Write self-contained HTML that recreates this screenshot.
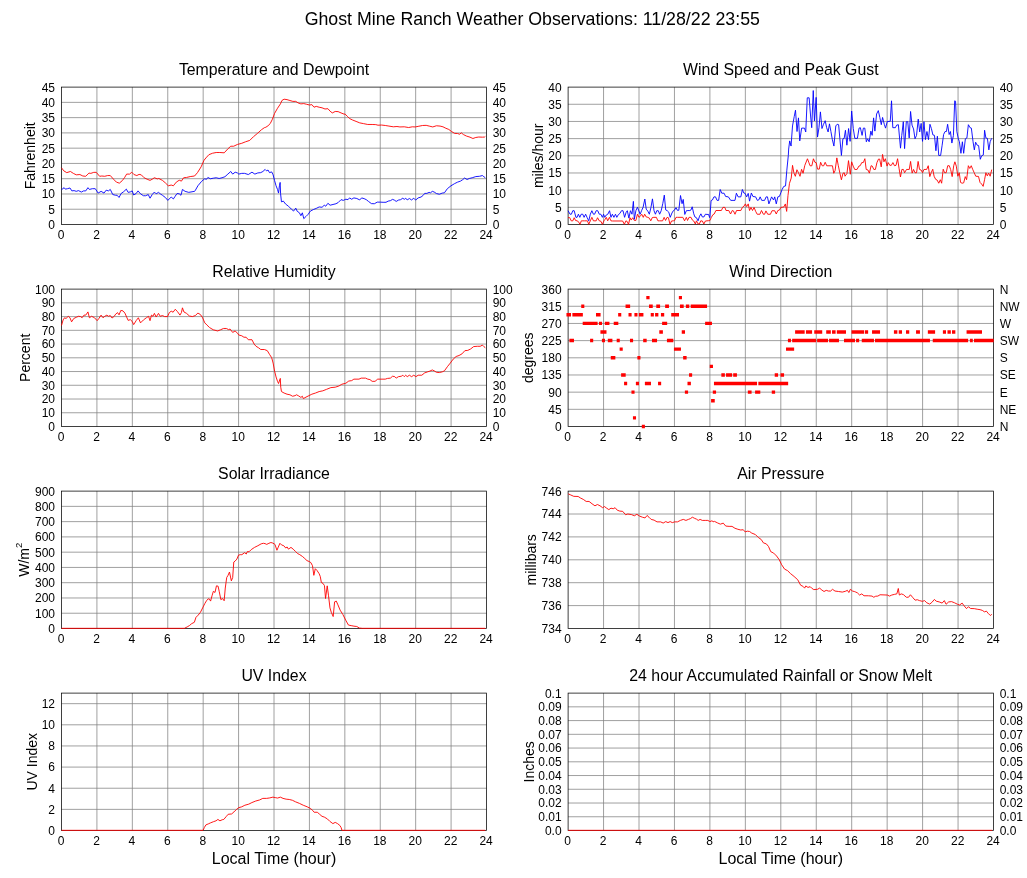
<!DOCTYPE html>
<html lang="en"><head><meta charset="utf-8"><title>Ghost Mine Ranch Weather Observations</title>
<style>html,body{margin:0;padding:0;background:#fff}svg{display:block}</style></head>
<body>
<svg width="1027" height="878" viewBox="0 0 1027 878" font-family='"Liberation Sans", Arial, Helvetica, sans-serif' fill="#000">
<defs><filter id="gs" filterUnits="userSpaceOnUse" x="0" y="0" width="1027" height="878" color-interpolation-filters="sRGB"><feColorMatrix type="saturate" values="0"/></filter></defs>
<rect width="1027" height="878" fill="#fff"/>
<g>
<path d="M96.92 87.1V224.5M132.33 87.1V224.5M167.75 87.1V224.5M203.17 87.1V224.5M238.58 87.1V224.5M274 87.1V224.5M309.42 87.1V224.5M344.83 87.1V224.5M380.25 87.1V224.5M415.67 87.1V224.5M451.08 87.1V224.5M61.5 209.23H486.5M61.5 193.97H486.5M61.5 178.7H486.5M61.5 163.43H486.5M61.5 148.17H486.5M61.5 132.9H486.5M61.5 117.63H486.5M61.5 102.37H486.5" stroke="#808080" stroke-width="0.75" fill="none"/>
<rect x="61.5" y="87.1" width="425" height="137.4" fill="none" stroke="#000" stroke-width="0.75"/>
<path d="M61.5 189.73L64.13 187.68L65.3 189.14L67.49 188.7L69.98 187.97L71.88 190.9L74.07 190.6L76.26 191.33L78.45 190.6L81.37 192.06L83.56 190.9L85.75 190.9L87.94 187.68L89.4 189.44L92.32 188.7L95.24 188.7L98.17 193.09L101.09 191.33L104.01 193.09L106.2 190.17L108.39 190.9L110.29 189.44L112.77 194.55L115.69 195.28L117.15 195.28L119.05 197.47L121.1 193.52L123.73 191.63L126.35 189.14L128.11 192.36L130.3 191.92L132.2 190.9L133.66 194.99L136.14 193.52L138.04 190.9L140.52 193.82L143.44 195.72L145.63 195.72L148.26 194.55L150.02 198.2L152.21 194.55L154.4 192.06L156.15 193.82L158.49 192.36L160.24 193.82L162.43 195.28L165.35 197.47L167.83 200.39L171.19 197.03L173.38 198.93L174.85 196.74L177.04 193.52L179.23 193.82L180.98 195.28L182.44 189.44L185.07 191.33L188.72 192.36L194.56 191.33L195 190.9L197.92 185.78L201.57 181.4L204.49 178.92L206.68 179.21L207.85 177.46L210.34 178.77L213.26 178.19L216.18 177.75L219.1 178.48L222.02 177.75L224.94 176.73L227.86 174.1L230.78 171.47L232.68 174.1L235.17 172.2L237.36 172.93L238.82 174.1L241.74 173.37L244.66 173.37L248.31 174.54L251.96 172.2L254.88 174.1L257.8 172.93L260.73 172.64L262.92 171.47L265.11 169.43L266.57 170.89L268.03 170.01L269.49 172.64L271.68 171.91L273.14 174.83L274.6 180.67L276.06 185.78L277.52 189.44L278.54 193.09L279.42 185.78L280.15 182.42L280.59 193.82L281.47 201.85L283.36 201.12L285.56 204.04L288.48 206.23L291.4 209.15L293.59 211.05L295.78 208.13L297.24 211.34L299.43 212.8L300.89 215.73L302.35 212.8L303.81 218.65L306 216.46L308.19 214.26L310.38 211.05L313.31 209.59L316.23 208.42L319.15 206.96L322.07 207.25L324.26 205.21L325.72 206.23L327.91 203.31L330.1 205.21L333.02 204.48L335.94 203.75L338.14 202.58L341.06 199.66L343.25 200.39L345.84 199.22L348.03 199.66L349.49 197.91L351.68 199.22L353.88 197.91L356.8 198.49L359.72 199.95L361.62 197.91L364.1 198.64L366.29 199.66L368.48 201.41L371.4 203.6L374.32 203.75L377.24 202.14L380.17 202.14L383.09 202.29L386.01 202.29L388.2 201.12L390.39 200.68L392.58 199.37L394.33 200.1L396.23 201.41L398.42 200.1L400.61 199.66L402.8 198.2L404.26 199.37L405.73 198.2L407.19 199.95L409.38 198.49L411.57 199.95L413.76 198.2L415.66 200.1L418.14 197.91L421.06 197.03L423.25 195.28L424.71 193.38L426.9 193.38L429.09 192.36L430.56 192.79L432.31 191.33L434.21 192.06L436.4 193.52L439.32 194.26L442.24 193.09L444.43 192.79L447.35 188.7L451 185.78L454.65 183.59L457.58 182.13L460.5 181.11L462.69 179.65L464.59 178.04L467.07 179.5L469.26 178.48L472.18 177.75L475.83 176.58L479.48 176.29L482.41 175.56L483.87 176.73L485.33 177.75" stroke="#0000ff" stroke-width="0.9" fill="none" stroke-linejoin="round"/>
<path d="M61.5 167.82L63.84 170.89L66.76 172.64L70.41 171.47L73.34 173.37L76.26 174.83L79.91 174.54L82.83 176L85.75 176.29L88.96 173.08L90.86 173.37L93.78 172.35L96.27 172.35L99.63 176.29L101.82 176L104.74 176.29L107.66 175.56L110.29 175.56L113.5 179.21L116.42 182.13L119.34 183.15L122.26 180.67L124.46 177.75L126.65 174.1L129.57 174.1L131.76 172.2L133.95 174.54L136.87 175.56L139.06 174.39L141.25 174.83L144.17 177.75L147.09 179.21L150.02 180.38L152.21 179.21L154.4 177.75L157.32 178.92L158.78 178.48L162.43 180.38L165.35 182.86L168.27 185.78L171.19 185.05L173.38 185.78L176.31 182.13L179.23 180.23L181.42 181.11L183.61 177.75L186.53 177.46L190.18 176.58L194.56 176L197.48 172.64L201.14 166.8L204.06 160.22L205.95 157.92L208.88 154.7L212.53 153.24L216.18 152.51L219.83 152.51L224.21 152.8L227.86 148.86L230.78 146.23L233.7 146.23L237.36 144.48L241.74 143.31L245.39 141.85L249.77 140.39L253.42 136.74L257.8 133.09L261.46 129.73L264.38 127.68L265.84 127.24L268.03 125.78L270.22 123.59L272.41 119.21L274.6 113.37L277.52 108.26L280.44 103.88L281.9 100.52L284.09 99.2L287.02 99.64L289.94 100.52L292.86 101.39L295.78 101.39L297.97 102.85L300.89 103.88L303.81 103.58L306.73 104.31L309.65 105.04L311.85 104.61L314.04 107.23L316.23 106.36L319.15 107.23L322.07 107.82L324.99 108.99L327.91 108.7L330.1 111.18L332.29 112.93L335.21 111.47L338.14 111.62L341.06 112.93L343.98 114.1L345.11 114.1L347.3 116.29L349.49 118.48L352.41 119.94L356.07 121.4L359.72 122.86L363.37 123.59L367.75 124.47L372.13 124.47L375.78 124.62L377.97 125.2L381.63 125.05L385.28 125.49L388.93 126.08L393.31 126.81L396.96 126.51L399.88 126.95L404.26 126.81L408.65 127.54L412.3 126.81L415.22 126.95L418.87 126.22L422.52 125.49L426.17 125.35L429.82 126.22L432.75 126.95L436.4 125.78L440.05 126.08L442.97 126.81L445.89 128.27L448.81 129.44L451.73 131.63L454.65 133.38L457.58 133.52L459.77 134.26L461.23 132.79L463.42 134.55L466.34 136.01L469.99 137.18L472.91 138.49L475.83 137.47L478.75 137.03L482.41 137.18L484.6 137.03L485.33 136.45" stroke="#ff0000" stroke-width="0.9" fill="none" stroke-linejoin="round"/>
</g>
<g>
<path d="M603.55 87.1V224.5M639 87.1V224.5M674.45 87.1V224.5M709.9 87.1V224.5M745.35 87.1V224.5M780.8 87.1V224.5M816.25 87.1V224.5M851.7 87.1V224.5M887.15 87.1V224.5M922.6 87.1V224.5M958.05 87.1V224.5M568.1 207.32H993.5M568.1 190.15H993.5M568.1 172.97H993.5M568.1 155.8H993.5M568.1 138.62H993.5M568.1 121.45H993.5M568.1 104.28H993.5" stroke="#808080" stroke-width="0.75" fill="none"/>
<rect x="568.1" y="87.1" width="425.4" height="137.4" fill="none" stroke="#000" stroke-width="0.75"/>
<path d="M568.12 217.56L569.67 217.56L571.23 220.83L572.79 220.83L574.19 217.72L575.52 220.44L577.07 220.83L578.4 221.61L579.96 224.34L581.36 220.83L582.92 220.83L584.47 220.83L586.03 220.83L587.43 220.83L588.76 224.34L590.32 220.83L591.87 217.33L593.43 220.83L594.99 220.83L596.16 220.83L597.56 217.72L599.27 220.83L600.83 221.22L602.39 224.34L603.95 220.83L605.12 219.27L606.29 217.33L607.69 220.83L609.4 217.33L610.96 220.83L612.52 220.99L622.64 220.99L624.36 224.34L625.92 220.83L627.32 221.61L628.49 224.5L630.04 217.72L631.21 220.05L632.77 217.72L634.33 220.44L635.89 220.44L637.44 214.21L639 217.33L640 216.55L641.71 214.21L643.27 217.33L644.67 214.21L646.23 216.94L647.79 217.33L649.35 218.11L650.75 220.83L652.31 217.56L653.87 217.33L656.36 217.33L657.92 220.83L659.47 220.83L662.59 220.83L664.15 217.33L665.55 220.44L667.11 217.33L668.43 217.72L669.99 224.34L671.55 220.99L673.34 220.83L674.66 220.44L675.99 217.33L677.39 217.33L682.84 217.33L684.56 220.83L686.35 217.33L687.52 220.44L689.07 217.33L691.02 217.33L692.35 220.05L693.75 220.99L695.31 223.95L696.48 220.83L698.03 223.95L699.36 223.95L700.76 220.83L702.32 220.99L703.88 223.95L705.43 220.99L706.99 220.83L708.55 220.68L709.83 220.63L711.23 217.67L712.79 214.79L714.19 214.01L715.91 210.51L721.36 210.51L722.92 207.39L724.86 207.39L726.03 210.51L728.76 210.51L730.55 214.01L732.26 210.51L733.43 210.9L734.99 214.25L736.55 210.51L740.83 210.51L742.39 207.39L743.95 206.22L745.35 203.89L746.67 206.61L748.23 203.89L749.56 210.51L750.96 207.39L752.52 210.51L754.07 207.39L755.63 211.29L757.19 214.25L759.92 214.25L761.48 210.51L763.42 214.25L764.59 214.25L765.92 210.9L767.71 214.25L770.43 214.25L771.99 210.74L774.72 210.74L776.28 214.01L777.83 210.51L779.39 210.12L780.95 207.39L782.12 207.23L783.77 207.02L785.35 203.95L786.67 211.4L787.98 195.61L789.47 183.33L791.23 178.07L792.54 165.35L793.86 172.81L795.35 176.32L796.93 169.74L798.51 172.81L800 176.32L801.58 169.3L803.07 173.25L804.82 165.35L807.46 158.77L808.77 162.28L810.09 165.79L811.84 165.79L813.42 158.77L814.91 162.28L816.23 162.72L817.54 169.12L819.3 169.12L820.61 162.28L822.19 165.79L823.68 165.79L825.18 162.28L826.75 165.79L832.46 165.79L833.77 173.25L835.09 170.61L836.84 157.89L838.33 165.79L839.91 173.25L841.4 179.82L842.98 173.25L844.3 172.81L845 176.22L846.95 173.5L848.51 160.64L850.3 174.27L851.62 161.81L853.18 166.1L854.74 169.44L857.07 169.44L858.87 166.1L860.19 165.71L861.75 162.59L863.31 162.59L864.86 158.7L866.19 169.44L867.98 169.99L869.38 173.11L871.1 165.71L872.26 166.1L873.82 169.44L875.38 169.44L876.94 162.59L878.5 159.08L879.66 159.08L881.22 166.87L882.55 154.41L883.95 161.81L885.35 158.7L887.06 166.1L888.23 162.59L889.79 165.32L891.35 165.32L892.91 162.59L894.46 165.71L896.02 165.32L897.58 158.7L899.14 168.82L900.46 177L901.86 169.44L903.42 169.44L904.59 172.72L906.54 169.44L909.26 169.44L910.59 161.42L912.15 173.11L913.55 169.44L915 172.72L916.56 172.72L918.12 161.42L919.52 169.44L921.08 169.99L922.56 172.72L923.96 169.44L926.68 169.44L928.24 165.71L929.8 176.61L931.2 172.72L932.76 169.21L934.08 176.22L935.64 179.34L937.2 180.12L938.76 183.23L940.32 179.73L941.64 183.23L943.2 169.21L944.6 172.72L946.16 172.72L947.72 165.71L949.27 165.71L950.68 169.6L952.16 176.61L953.71 165.71L954.88 161.81L956.29 166.1L957.84 176.22L959.25 172.72L960.57 182.45L962.13 183.23L963.69 182.84L965.24 176.61L966.57 179.73L968.36 165.71L969.76 168.43L971.24 165.71L972.64 169.21L974.2 172.72L975.76 176.22L978.49 176.46L980.04 182.45L981.6 184.01L983.16 186.35L984.56 179.73L985.89 172.72L987.29 175.83L988.61 173.11L990.17 176.22L991.73 169.6" stroke="#ff0000" stroke-width="0.9" fill="none" stroke-linejoin="round"/>
<path d="M568.12 210.71L570.06 214.21L571.39 214.21L572.79 210.71L574.19 210.71L575.91 217.33L577.07 217.33L578.4 214.21L579.8 217.33L581.2 214.21L582.76 214.21L584.08 217.33L585.64 214.21L587.2 217.72L588.76 220.83L590.32 214.21L591.87 210.71L593.43 214.21L594.6 214.21L596.16 210.71L597.72 210.71L599.27 214.21L600.83 214.21L602.39 217.33L603.56 214.21L604.73 217.33L606.29 214.99L607.84 214.21L609.56 210.71L610.96 217.33L612.36 214.21L613.92 217.33L615.48 214.21L616.8 217.33L618.36 214.6L619.92 213.43L621.48 210.71L623.03 210.71L624.59 217.33L626.15 212.26L627.32 210.71L628.88 218.11L630.43 210.71L631.99 214.21L633.39 201.36L634.33 219.27L635.89 210.71L637.44 207.2L640.17 214.21L641.56 210.71L643.12 207.2L644.83 199.02L646.23 209.15L647.79 211.1L649.35 214.21L650.91 207.59L652.46 198.87L654.02 210.71L655.42 214.21L656.75 210.71L658.31 210.71L659.63 214.21L661.19 210.71L662.75 203.7L664.3 195.13L665.71 209.93L667.26 210.71L668.82 212.26L670.22 217.33L671.94 213.04L673.34 210.71L674.66 209.93L675.99 207.59L677.39 210.32L678.79 210.32L680.51 195.52L682.06 203.7L683.23 199.41L684.79 214.44L686.35 210.71L687.91 210.55L689.85 210.55L691.02 209.93L692.19 206.81L693.75 213.82L694.92 216.94L696.48 217.72L698.03 220.83L699.59 216.16L700.92 213.82L702.32 216.94L703.88 216.94L705.43 214.21L706.99 214.44L708.55 214.44L709.72 217.72L709.83 217.67L711.08 200.54L712.4 199.99L713.96 196.87L715.52 196.87L717.07 200.38L718.63 200.38L720.19 189.47L721.75 193.21L724.08 193.21L725.64 196.48L728.37 196.87L730.71 200.38L734.99 200.38L736.39 193.21L738.11 196.87L740.83 196.87L742.39 189.47L743.79 192.98L745.12 193.37L746.67 196.87L748.23 193.37L749.56 201.16L751.35 192.98L752.91 196.48L755.63 196.87L757.35 200.38L758.75 199.99L760.15 196.87L761.71 200.38L764.59 200.38L766.15 196.87L767.47 196.87L768.88 203.89L771.6 196.87L773.55 199.99L774.72 196.87L776.28 203.89L777.83 196.87L779.39 196.48L780.95 192.59L782.12 189.47L783.77 186.4L785.53 185.96L786.84 170.18L788.33 155.26L788.66 149.03L789.69 140.92L791.05 146.05L792.5 125.98L794.21 116.59L795.49 110.19L797.03 131.53L798.48 117.87L799.76 140.92L801.64 128.12L804.46 128.12L805.74 131.96L807.27 97.81L809.15 97.81L810.43 114.03L811.71 127.69L813.25 90.55L814.45 120.86L816.15 97.38L817.52 137.08L818.97 127.69L820.42 111.89L821.96 128.54L823.5 124.27L825.2 120.69L826.65 127.69L828.11 131.96L829.47 123.85L830.92 131.53L832.37 139.64L833.91 146.05L835.79 125.98L837.16 124.27L838.61 124.7L839.89 138.79L841.42 155.44L842.88 138.79L844.16 138.36L845.44 130.25L846.88 145.19L848.59 128.54L850.12 141.35L851.66 111.04L853.28 128.54L854.82 138.36L857.38 138.36L859.09 128.12L860.37 127.69L862.08 135.37L863.36 128.12L864.81 128.12L866.34 141.78L867.63 138.79L869.16 141.78L870.87 131.1L872.15 135.37L873.6 117.87L874.88 131.1L876.59 114.03L878.3 110.61L879.83 117.44L881.29 124.7L882.57 117.44L884.27 124.27L885.55 128.12L887.26 121.54L890.25 121.29L891.53 100.8L892.81 127.69L895.37 127.69L896.65 125.13L898.36 124.7L900.5 148.18L901.78 135.37L903.31 121.71L904.59 148.61L906.3 121.71L907.75 121.71L909.2 137.93L910.57 111.47L912.02 125.13L913.56 128.97L915.01 138.79L916.54 135.37L918.24 119.15L919.7 131.96L921.15 123.42L922.51 141.35L923.96 121.71L925.42 139.64L926.95 131.53L928.49 139.64L929.94 124.27L931.39 128.54L932.93 134.95L934.47 135.37L935.92 150.74L937.37 136.23L938.74 155.44L940.61 155.44L942.15 145.19L943.6 134.52L945.05 131.53L946.42 131.53L947.61 124.27L949.15 134.52L950.43 131.53L951.88 143.06L953.42 135.37L954.7 100.8L955.55 101.22L956.84 131.53L958.37 138.79L959.4 141.78L960.93 153.3L962.39 141.78L963.67 153.3L965.37 138.79L966.91 137.93L968.36 124.7L970.07 127.69L971.35 128.12L973.06 141.78L974.34 149.89L975.62 142.2L977.16 145.19L978.61 145.62L980.31 159.28L981.6 155.86L983.3 155.01L984.58 130.25L985.86 137.93L987.4 138.36L988.85 149.89L990.13 141.78L991.58 138.36" stroke="#0000ff" stroke-width="0.9" fill="none" stroke-linejoin="round"/>
</g>
<g>
<path d="M96.92 289.1V426.5M132.33 289.1V426.5M167.75 289.1V426.5M203.17 289.1V426.5M238.58 289.1V426.5M274 289.1V426.5M309.42 289.1V426.5M344.83 289.1V426.5M380.25 289.1V426.5M415.67 289.1V426.5M451.08 289.1V426.5M61.5 412.76H486.5M61.5 399.02H486.5M61.5 385.28H486.5M61.5 371.54H486.5M61.5 357.8H486.5M61.5 344.06H486.5M61.5 330.32H486.5M61.5 316.58H486.5M61.5 302.84H486.5" stroke="#808080" stroke-width="0.75" fill="none"/>
<rect x="61.5" y="289.1" width="425" height="137.4" fill="none" stroke="#000" stroke-width="0.75"/>
<path d="M61.51 325.49L63.11 319.94L64.57 317.75L66.03 318.48L68.22 316.29L69.98 317.75L71.58 321.84L73.77 318.48L76.26 317.31L78.45 316.29L80.64 316.58L82.1 317.75L84 315.12L85.75 315.12L87.94 311.91L89.4 317.75L91.59 316.29L94.51 317.75L97.14 320.67L98.9 318.48L101.09 315.12L102.99 317.75L104.74 316.29L106.93 315.12L108.39 316.29L110.29 315.56L112.04 318.04L114.23 316.29L115.69 314.1L117.59 312.64L119.05 314.83L120.8 310.45L123 310.89L124.89 313.08L126.65 317.02L128.11 320.38L130.3 319.65L132.2 321.4L133.66 324.62L136.14 320.67L138.33 317.75L140.52 322.86L143.44 319.94L146.36 317.75L148.56 316.29L150.02 320.67L151.48 315.12L152.94 316.29L154.4 313.37L156.15 317.02L158.49 313.37L160.24 316.29L162.43 315.56L164.62 316.58L167.54 316.58L169.3 312.64L171.19 311.18L173.09 312.2L175.28 309.28L177.47 311.62L179.96 315.12L181.42 312.64L182.44 307.82L183.9 311.91L186.53 313.37L189.45 316L192.37 316.58L195.29 315.56L197.92 313.08L200.41 314.54L202.6 317.75L204.79 322.86L206.98 325.05L209.61 327.59L213.26 329.79L217.64 330.95L220.56 329.79L223.48 328.47L226.4 328.47L228.59 329.64L230.05 329.06L232.68 332.41L235.17 330.95L237.36 333.15L238.82 335.04L241.74 335.77L243.93 337.23L246.12 337.23L248.31 339.72L251.96 339.72L254.15 344.1L256.05 346.29L258.53 347.75L260.73 349.5L264.38 349.5L267.3 350.67L269.49 354.32L271.68 357.68L273.14 363.09L274.6 371.12L276.06 376.96L277.52 381.34L278.54 383.53L279.71 379.88L280.3 378.42L280.74 387.19L281.47 391.57L284.09 393.03L287.02 394.2L289.94 394.78L292.57 396.24L295.05 395.66L296.51 394.78L298.7 395.95L300.89 397.41L302.35 396.24L303.37 398.58L306 397.12L308.92 395.66L311.85 394.2L315.5 393.03L319.15 391.57L322.8 390.84L326.45 389.38L330.83 387.62L335.21 387.19L338.87 386.02L341.79 384.26L343.98 383.68L345.84 383.24L348.76 381.05L351.68 380.61L353.88 379.15L358.99 379.15L361.18 378.13L365.56 378.13L367.75 379.15L369.94 379.59L372.13 381.34L375.05 381.34L377.68 379.15L385.28 379.15L387.47 378.42L390.39 378.13L392.58 376.23L394.77 376.67L396.23 378.13L398.42 376.67L401.34 376.23L402.8 375.21L404.26 376.67L405.73 375.21L407.19 376.67L409.38 375.21L411.57 376.67L413.76 375.21L415.95 376.67L418.14 375.21L421.79 375.21L424.71 372.87L427.63 371.85L429.82 371.12L432.31 369.95L434.21 370.83L436.4 372.29L439.32 372.58L442.24 371.85L444.43 370.83L447.35 366.74L450.27 363.09L453.19 359.14L456.11 356.51L459.04 355.49L461.96 353.89L464.88 350.67L467.8 350.38L470.72 348.92L473.64 346.58L477.29 346.29L480.21 346.29L482.41 345.12L483.87 346.58L485.33 347.75" stroke="#ff0000" stroke-width="0.9" fill="none" stroke-linejoin="round"/>
</g>
<g>
<path d="M603.55 289.1V426.5M639 289.1V426.5M674.45 289.1V426.5M709.9 289.1V426.5M745.35 289.1V426.5M780.8 289.1V426.5M816.25 289.1V426.5M851.7 289.1V426.5M887.15 289.1V426.5M922.6 289.1V426.5M958.05 289.1V426.5M568.1 409.32H993.5M568.1 392.15H993.5M568.1 374.98H993.5M568.1 357.8H993.5M568.1 340.62H993.5M568.1 323.45H993.5M568.1 306.28H993.5" stroke="#808080" stroke-width="0.75" fill="none"/>
<rect x="568.1" y="289.1" width="425.4" height="137.4" fill="none" stroke="#000" stroke-width="0.75"/>
<path d="M566.45 313.08H569.55V316.48H566.45zM567.93 313.08H571.03V316.48H567.93zM569.41 338.86H572.5V342.26H569.41zM570.88 338.86H573.98V342.26H570.88zM572.36 313.08H575.46V316.48H572.36zM573.84 313.08H576.94V316.48H573.84zM575.32 313.08H578.41V316.48H575.32zM576.79 313.08H579.89V316.48H576.79zM578.27 313.08H581.37V316.48H578.27zM579.75 313.08H582.85V316.48H579.75zM581.23 304.49H584.32V307.89H581.23zM582.7 321.68H585.8V325.07H582.7zM584.18 321.68H587.28V325.07H584.18zM585.66 321.68H588.76V325.07H585.66zM587.13 321.68H590.23V325.07H587.13zM588.61 321.68H591.71V325.07H588.61zM590.09 338.86H593.19V342.26H590.09zM591.57 321.68H594.67V325.07H591.57zM593.05 321.68H596.14V325.07H593.05zM594.52 321.68H597.62V325.07H594.52zM596 313.08H599.1V316.48H596zM597.48 313.08H600.58V316.48H597.48zM598.96 321.68H602.05V325.07H598.96zM600.43 330.27H603.53V333.67H600.43zM601.91 338.86H605.01V342.26H601.91zM603.39 330.27H606.49V333.67H603.39zM604.87 321.68H607.96V325.07H604.87zM606.34 321.68H609.44V325.07H606.34zM607.82 338.86H610.92V342.26H607.82zM609.3 338.86H612.4V342.26H609.3zM610.78 356.05H613.88V359.45H610.78zM612.25 356.05H615.35V359.45H612.25zM613.73 321.68H616.83V325.07H613.73zM615.21 321.68H618.31V325.07H615.21zM616.69 338.86H619.78V342.26H616.69zM618.16 313.08H621.26V316.48H618.16zM619.64 347.46H622.74V350.86H619.64zM621.12 373.24H624.22V376.64H621.12zM622.6 373.24H625.69V376.64H622.6zM624.07 381.83H627.17V385.23H624.07zM625.55 304.49H628.65V307.89H625.55zM627.03 304.49H630.13V307.89H627.03zM628.5 313.08H631.6V316.48H628.5zM629.98 338.86H633.08V342.26H629.98zM631.46 390.43H634.56V393.82H631.46zM632.94 416.21H636.04V419.61H632.94zM634.42 313.08H637.51V316.48H634.42zM635.89 381.83H638.99V385.23H635.89zM637.37 356.05H640.47V359.45H637.37zM638.85 313.08H641.95V316.48H638.85zM640.33 313.08H643.42V316.48H640.33zM641.8 424.8H644.9V428.2H641.8zM646.3 295.89H649.57V299.29H646.3zM678.86 295.89H681.97V299.29H678.86zM649.02 304.49H652.76V307.89H649.02zM656.27 304.49H660.08V307.89H656.27zM665.15 304.49H668.96V307.89H665.15zM679.95 304.49H683.69V307.89H679.95zM685.87 304.49H689.29V307.89H685.87zM690.7 304.49H707.05V307.89H690.7zM650.74 313.08H653.85V316.48H650.74zM655.1 313.08H658.37V316.48H655.1zM660.94 313.08H664.21V316.48H660.94zM671.22 313.08H679.01V316.48H671.22zM662.11 321.68H667.17V325.07H662.11zM705.11 321.68H711.96V325.07H705.11zM659.3 330.27H662.89V333.67H659.3zM681.74 330.27H685.01V333.67H681.74zM643.18 338.86H646.68V342.26H643.18zM651.98 338.86H657.04V342.26H651.98zM666.94 338.86H673.33V342.26H666.94zM673.95 347.46H680.96V350.86H673.95zM683.14 356.05H686.62V359.45H683.14zM709.77 364.64H712.97V368.04H709.77zM689.04 373.24H692.14V376.64H689.04zM644.88 381.83H650.98V385.23H644.88zM658.05 381.83H661.15V385.23H658.05zM687.49 381.83H690.88V385.23H687.49zM684.88 390.43H688.08V393.82H684.88zM721.36 373.24H724.86V376.64H721.36zM726.03 373.24H732.11V376.64H726.03zM733.2 373.24H736.94V376.64H733.2zM774.72 373.24H778.07V376.64H774.72zM780.56 373.24H784.07V376.64H780.56zM713.96 381.83H757.04V385.23H713.96zM758.36 381.83H785V385.23H758.36zM712.79 390.43H716.06V393.82H712.79zM747.84 390.43H751.58V393.82H747.84zM755.09 390.43H760.31V393.82H755.09zM771.76 390.43H775.11V393.82H771.76zM711.08 399.02H714.74V402.42H711.08zM795.1 330.27H804.67V333.67H795.1zM805.95 330.27H812.09V333.67H805.95zM814.24 330.27H822.22V333.67H814.24zM826.21 330.27H830.83V333.67H826.21zM832.03 330.27H835.62V333.67H832.03zM836.81 330.27H845.99V333.67H836.81zM787.92 338.86H790.95V342.26H787.92zM792.15 338.86H816.08V342.26H792.15zM817.11 338.86H828.04V342.26H817.11zM829.08 338.86H838.97V342.26H829.08zM843.99 338.86H855V342.26H843.99zM786.01 347.46H794.14V350.86H786.01zM780.58 373.24H783.93V376.64H780.58zM779.79 381.83H788.16V385.23H779.79zM853.02 330.27H864.08V333.67H853.02zM864.86 330.27H868.14V333.67H864.86zM872.03 330.27H880.05V333.67H872.03zM893.92 330.27H897.35V333.67H893.92zM898.75 330.27H902.02V333.67H898.75zM905.99 330.27H909.26V333.67H905.99zM916.04 330.27H919.94V333.67H916.04zM849.67 338.86H854.97V342.26H849.67zM856.06 338.86H859.18V342.26H856.06zM861.75 338.86H873.98V342.26H861.75zM874.99 338.86H925V342.26H874.99zM851.5 330.27H856.2V333.67H851.5zM927.85 330.27H935.1V333.67H927.85zM942.89 330.27H946V333.67H942.89zM947.48 330.27H950.83V333.67H947.48zM952 330.27H955.35V333.67H952zM966.57 330.27H981.99V333.67H966.57zM919.67 338.86H929.96V342.26H919.67zM932.76 338.86H968.13V342.26H932.76zM969.92 338.86H972.8V342.26H969.92zM973.97 338.86H993.68V342.26H973.97z" fill="#ff0000"/>
</g>
<g>
<path d="M96.92 491.1V628.5M132.33 491.1V628.5M167.75 491.1V628.5M203.17 491.1V628.5M238.58 491.1V628.5M274 491.1V628.5M309.42 491.1V628.5M344.83 491.1V628.5M380.25 491.1V628.5M415.67 491.1V628.5M451.08 491.1V628.5M61.5 613.23H486.5M61.5 597.97H486.5M61.5 582.7H486.5M61.5 567.43H486.5M61.5 552.17H486.5M61.5 536.9H486.5M61.5 521.63H486.5M61.5 506.37H486.5" stroke="#808080" stroke-width="0.75" fill="none"/>
<rect x="61.5" y="491.1" width="425" height="137.4" fill="none" stroke="#000" stroke-width="0.75"/>
<path d="M61.5 628.32L184.39 628.32L187.15 626.93L189.36 625.61L191.57 623.73L194.34 622.29L195.99 617.32L198.2 615.11L200.41 612.35L202.62 607.93L204.83 603.51L206.49 600.75L208.15 598.87L209.25 598.87L210.58 601.08L212.02 595.77L213.34 591.35L215 592.46L216.44 585.83L218.09 586.16L219.2 591.35L220.86 599.64L222.51 598.54L224.17 600.75L225.28 588.04L226.71 577.54L228.04 575.33L229.48 572.02L231.35 580.86L232.68 577.54L233.78 562.07L235.22 560.97L236.88 559.09L238.54 555.11L240.19 554.67L241.85 554.67L244.61 552.68L246.27 554.01L247.38 551.57L249.03 551.8L251.24 549.59L254.56 547.38L257.87 545.72L261.19 543.84L263.4 543.29L265.06 543.62L266.71 544.39L268.92 543.29L270.91 542.51L272.79 543.07L274.45 544.06L274.94 544.39L276.93 550.25L278.26 547.15L279.92 543.29L281.57 544.94L283.78 545.72L285.77 548.04L287.1 546.93L288.43 549.14L290.97 547.38L293.18 549.14L295.39 551.35L297.6 553.56L299.81 554.67L302.57 556.55L304.78 558.54L306.99 560.64L309.2 561.52L310.86 562.62L312.51 565.72L313.84 575.33L315.28 568.7L316.93 570.36L319.14 573.67L320.25 576.44L321.35 582.51L323.01 583.4L324.45 585.61L325.55 598.54L327.21 585.83L328.54 595.77L329.97 607.93L331.3 612.35L333.18 616.55L334.61 601.85L336.27 601.08L337.93 604.83L340.14 610.14L342.9 614.56L345.66 620.08L348.43 625.06L351.19 625.61L353.95 626.16L356.71 626.49L359.48 628.04L362.24 628.32L485.3 628.32" stroke="#ff0000" stroke-width="0.9" fill="none" stroke-linejoin="round"/>
</g>
<g>
<path d="M603.55 491.1V628.5M639 491.1V628.5M674.45 491.1V628.5M709.9 491.1V628.5M745.35 491.1V628.5M780.8 491.1V628.5M816.25 491.1V628.5M851.7 491.1V628.5M887.15 491.1V628.5M922.6 491.1V628.5M958.05 491.1V628.5M568.1 605.6H993.5M568.1 582.7H993.5M568.1 559.8H993.5M568.1 536.9H993.5M568.1 514H993.5" stroke="#808080" stroke-width="0.75" fill="none"/>
<rect x="568.1" y="491.1" width="425.4" height="137.4" fill="none" stroke="#000" stroke-width="0.75"/>
<path d="M568.21 493.84L570.84 495.01L573.76 496.33L578.15 496.47L580.34 497.93L583.26 499.39L586.18 501.44L589.1 501.44L592.02 503.77L594.94 505.82L597.42 504.5L600.05 505.82L602.68 507.72L604.44 506.55L606.63 508.16L608.82 509.62L611.01 508.16L613.2 508.74L615.1 507.72L617.29 510.2L619.77 511.08L622.69 511.37L625.61 514.73L627.8 514L631.46 514.58L634.38 515.75L636.86 514.29L639.49 516.04L642.41 517.21L645.04 517.94L647.08 515.46L648.98 517.21L651.17 519.4L654.09 520.13L657.02 521.89L660.67 521.89L663.15 523.05L665.78 521.59L667.97 522.62L670.16 521.59L672.35 522.62L674.54 521.89L677.46 521.89L680.38 520.42L683.31 519.4L685.93 520.42L688.42 519.4L690.32 518.67L692.36 517.21L694.7 518.38L696.45 519.11L698.2 520.42L700.1 519.4L702.29 520.42L705.21 520.42L707.84 520.42L709.89 521.59L711.79 520.86L713.98 521.89L714.49 521.39L717.41 522.85L720.34 524.17L723.26 523.15L725.74 526.07L729.1 526.36L732.02 526.36L734.94 528.26L737.86 529.28L740.78 530.01L743.27 529.72L745.17 531.91L747.36 531.18L749.55 531.47L751.74 533.08L755.39 534.54L758.31 537.46L761.23 539.5L763.42 542.86L766.34 543.89L768.53 546.51L770.73 551.63L773.65 553.09L776.57 556.01L779.2 559.66L781.68 564.77L784.6 569.15L787.52 570.61L790.44 573.53L794.09 576.46L797.75 579.81L800.67 585.22L802.86 586.24L804.61 588.14L805.78 585.95L807.97 587.41L810.16 586.68L811.62 588.14L813.81 589.6L817.46 589.31L819.65 588.14L821.85 590.04L824.04 591.5L826.23 590.33L828.42 591.06L830.61 591.06L832.51 589.31L834.99 591.06L838.64 591.5L842.29 592.08L845.21 591.35L847.41 590.33L848.87 592.52L850.33 589.31L852.52 591.06L854.27 591.5L855.22 591.84L857.41 592.86L859.61 595.05L861.8 593.89L863.99 595.78L868.37 595.78L872.02 596.08L873.77 597.24L875.67 596.22L877.86 596.08L880.05 594.76L887.36 595.05L889.55 596.08L891.74 595.05L894.66 594.32L896.85 593.89L898.31 588.48L899.33 595.05L901.23 593.89L903.42 594.62L906.34 597.24L908.53 597.24L910.43 594.76L912.92 597.68L915.11 600.17L917.3 599.73L919.49 600.6L922.41 601.33L924.6 600.6L926.79 602.79L929.71 604.11L931.9 602.36L934.39 599.44L936.29 601.19L939.21 601.92L942.13 603.09L944.32 600.6L946.07 604.26L948.7 601.92L951.62 601.63L954.54 602.79L957.46 604.26L959.65 604.99L962.14 603.09L964.04 605.72L966.52 608.64L968.42 606.74L970.61 608.49L974.26 608.64L977.18 609.22L980.1 609.66L982.29 610.39L984.48 611.85L986.38 611.12L988.14 613.31L990.33 615.5L991.79 614.33" stroke="#ff0000" stroke-width="0.9" fill="none" stroke-linejoin="round"/>
</g>
<g>
<path d="M96.92 693.1V830.5M132.33 693.1V830.5M167.75 693.1V830.5M203.17 693.1V830.5M238.58 693.1V830.5M274 693.1V830.5M309.42 693.1V830.5M344.83 693.1V830.5M380.25 693.1V830.5M415.67 693.1V830.5M451.08 693.1V830.5M61.5 809.36H486.5M61.5 788.22H486.5M61.5 767.08H486.5M61.5 745.95H486.5M61.5 724.81H486.5M61.5 703.67H486.5" stroke="#808080" stroke-width="0.75" fill="none"/>
<rect x="61.5" y="693.1" width="425" height="137.4" fill="none" stroke="#000" stroke-width="0.75"/>
<path d="M61.5 830.32L203.1 830.32L204.35 827.52L205.91 824.87L208.24 823.93L210.58 822.84L213.7 821.6L216.03 820.82L217.9 819.42L219.93 820.82L222.26 819.73L223.82 819.42L226.16 816.61L228.18 814.27L231.61 813.96L233.95 811.94L236.29 809.6L238.62 807.73L241.74 806.8L244.85 805.24L248.75 804.15L251.86 802.59L255.76 801.03L259.65 799.94L262.77 798.38L266.67 798.38L269.78 797.92L272.9 797.14L275.23 797.6L277.57 798.07L280.37 797.14L283.02 798.38L286.14 799.16L289.26 799.47L292.37 800.25L295.49 801.81L299.38 803.37L303.28 805.24L307.17 806.8L310.29 808.35L312.62 810.38L314.18 812.25L317.3 812.25L319.63 814.27L321.97 816.3L324.31 817.08L327.42 818.95L329.76 821.29L332.88 823.62L335.21 822.38L337.55 823.62L339.89 825.49L341.13 827.52L341.91 830.32L485.3 830.32" stroke="#ff0000" stroke-width="0.9" fill="none" stroke-linejoin="round"/>
</g>
<g>
<path d="M603.55 693.1V830.5M639 693.1V830.5M674.45 693.1V830.5M709.9 693.1V830.5M745.35 693.1V830.5M780.8 693.1V830.5M816.25 693.1V830.5M851.7 693.1V830.5M887.15 693.1V830.5M922.6 693.1V830.5M958.05 693.1V830.5M568.1 816.76H993.5M568.1 803.02H993.5M568.1 789.28H993.5M568.1 775.54H993.5M568.1 761.8H993.5M568.1 748.06H993.5M568.1 734.32H993.5M568.1 720.58H993.5M568.1 706.84H993.5" stroke="#808080" stroke-width="0.75" fill="none"/>
<rect x="568.1" y="693.1" width="425.4" height="137.4" fill="none" stroke="#000" stroke-width="0.75"/>
<path d="M568.25 830.32L992.3 830.32" stroke="#ff0000" stroke-width="0.9" fill="none" stroke-linejoin="round"/>
</g>
<g filter="url(#gs)">
<text x="532.3" y="24.9" font-size="17.75" text-anchor="middle">Ghost Mine Ranch Weather Observations: 11/28/22 23:55</text>
<text x="274" y="74.8" font-size="15.85" text-anchor="middle">Temperature and Dewpoint</text>
<text x="55" y="228.9" font-size="12" text-anchor="end">0</text>
<text x="492.7" y="228.9" font-size="12">0</text>
<text x="55" y="213.63" font-size="12" text-anchor="end">5</text>
<text x="492.7" y="213.63" font-size="12">5</text>
<text x="55" y="198.37" font-size="12" text-anchor="end">10</text>
<text x="492.7" y="198.37" font-size="12">10</text>
<text x="55" y="183.1" font-size="12" text-anchor="end">15</text>
<text x="492.7" y="183.1" font-size="12">15</text>
<text x="55" y="167.83" font-size="12" text-anchor="end">20</text>
<text x="492.7" y="167.83" font-size="12">20</text>
<text x="55" y="152.57" font-size="12" text-anchor="end">25</text>
<text x="492.7" y="152.57" font-size="12">25</text>
<text x="55" y="137.3" font-size="12" text-anchor="end">30</text>
<text x="492.7" y="137.3" font-size="12">30</text>
<text x="55" y="122.03" font-size="12" text-anchor="end">35</text>
<text x="492.7" y="122.03" font-size="12">35</text>
<text x="55" y="106.77" font-size="12" text-anchor="end">40</text>
<text x="492.7" y="106.77" font-size="12">40</text>
<text x="55" y="91.5" font-size="12" text-anchor="end">45</text>
<text x="492.7" y="91.5" font-size="12">45</text>
<text x="61.1" y="239.2" font-size="12" text-anchor="middle">0</text>
<text x="96.52" y="239.2" font-size="12" text-anchor="middle">2</text>
<text x="131.93" y="239.2" font-size="12" text-anchor="middle">4</text>
<text x="167.35" y="239.2" font-size="12" text-anchor="middle">6</text>
<text x="202.77" y="239.2" font-size="12" text-anchor="middle">8</text>
<text x="238.18" y="239.2" font-size="12" text-anchor="middle">10</text>
<text x="273.6" y="239.2" font-size="12" text-anchor="middle">12</text>
<text x="309.02" y="239.2" font-size="12" text-anchor="middle">14</text>
<text x="344.43" y="239.2" font-size="12" text-anchor="middle">16</text>
<text x="379.85" y="239.2" font-size="12" text-anchor="middle">18</text>
<text x="415.27" y="239.2" font-size="12" text-anchor="middle">20</text>
<text x="450.68" y="239.2" font-size="12" text-anchor="middle">22</text>
<text x="486.1" y="239.2" font-size="12" text-anchor="middle">24</text>
<text transform="translate(35.1 155.8) rotate(-90)" font-size="14" text-anchor="middle">Fahrenheit</text>
<text x="780.8" y="74.8" font-size="15.85" text-anchor="middle">Wind Speed and Peak Gust</text>
<text x="561.6" y="228.9" font-size="12" text-anchor="end">0</text>
<text x="999.7" y="228.9" font-size="12">0</text>
<text x="561.6" y="211.72" font-size="12" text-anchor="end">5</text>
<text x="999.7" y="211.72" font-size="12">5</text>
<text x="561.6" y="194.55" font-size="12" text-anchor="end">10</text>
<text x="999.7" y="194.55" font-size="12">10</text>
<text x="561.6" y="177.38" font-size="12" text-anchor="end">15</text>
<text x="999.7" y="177.38" font-size="12">15</text>
<text x="561.6" y="160.2" font-size="12" text-anchor="end">20</text>
<text x="999.7" y="160.2" font-size="12">20</text>
<text x="561.6" y="143.03" font-size="12" text-anchor="end">25</text>
<text x="999.7" y="143.03" font-size="12">25</text>
<text x="561.6" y="125.85" font-size="12" text-anchor="end">30</text>
<text x="999.7" y="125.85" font-size="12">30</text>
<text x="561.6" y="108.68" font-size="12" text-anchor="end">35</text>
<text x="999.7" y="108.68" font-size="12">35</text>
<text x="561.6" y="91.5" font-size="12" text-anchor="end">40</text>
<text x="999.7" y="91.5" font-size="12">40</text>
<text x="567.7" y="239.2" font-size="12" text-anchor="middle">0</text>
<text x="603.15" y="239.2" font-size="12" text-anchor="middle">2</text>
<text x="638.6" y="239.2" font-size="12" text-anchor="middle">4</text>
<text x="674.05" y="239.2" font-size="12" text-anchor="middle">6</text>
<text x="709.5" y="239.2" font-size="12" text-anchor="middle">8</text>
<text x="744.95" y="239.2" font-size="12" text-anchor="middle">10</text>
<text x="780.4" y="239.2" font-size="12" text-anchor="middle">12</text>
<text x="815.85" y="239.2" font-size="12" text-anchor="middle">14</text>
<text x="851.3" y="239.2" font-size="12" text-anchor="middle">16</text>
<text x="886.75" y="239.2" font-size="12" text-anchor="middle">18</text>
<text x="922.2" y="239.2" font-size="12" text-anchor="middle">20</text>
<text x="957.65" y="239.2" font-size="12" text-anchor="middle">22</text>
<text x="993.1" y="239.2" font-size="12" text-anchor="middle">24</text>
<text transform="translate(542.7 155.8) rotate(-90)" font-size="14" text-anchor="middle">miles/hour</text>
<text x="274" y="276.8" font-size="15.85" text-anchor="middle">Relative Humidity</text>
<text x="55" y="430.9" font-size="12" text-anchor="end">0</text>
<text x="492.7" y="430.9" font-size="12">0</text>
<text x="55" y="417.16" font-size="12" text-anchor="end">10</text>
<text x="492.7" y="417.16" font-size="12">10</text>
<text x="55" y="403.42" font-size="12" text-anchor="end">20</text>
<text x="492.7" y="403.42" font-size="12">20</text>
<text x="55" y="389.68" font-size="12" text-anchor="end">30</text>
<text x="492.7" y="389.68" font-size="12">30</text>
<text x="55" y="375.94" font-size="12" text-anchor="end">40</text>
<text x="492.7" y="375.94" font-size="12">40</text>
<text x="55" y="362.2" font-size="12" text-anchor="end">50</text>
<text x="492.7" y="362.2" font-size="12">50</text>
<text x="55" y="348.46" font-size="12" text-anchor="end">60</text>
<text x="492.7" y="348.46" font-size="12">60</text>
<text x="55" y="334.72" font-size="12" text-anchor="end">70</text>
<text x="492.7" y="334.72" font-size="12">70</text>
<text x="55" y="320.98" font-size="12" text-anchor="end">80</text>
<text x="492.7" y="320.98" font-size="12">80</text>
<text x="55" y="307.24" font-size="12" text-anchor="end">90</text>
<text x="492.7" y="307.24" font-size="12">90</text>
<text x="55" y="293.5" font-size="12" text-anchor="end">100</text>
<text x="492.7" y="293.5" font-size="12">100</text>
<text x="61.1" y="441.2" font-size="12" text-anchor="middle">0</text>
<text x="96.52" y="441.2" font-size="12" text-anchor="middle">2</text>
<text x="131.93" y="441.2" font-size="12" text-anchor="middle">4</text>
<text x="167.35" y="441.2" font-size="12" text-anchor="middle">6</text>
<text x="202.77" y="441.2" font-size="12" text-anchor="middle">8</text>
<text x="238.18" y="441.2" font-size="12" text-anchor="middle">10</text>
<text x="273.6" y="441.2" font-size="12" text-anchor="middle">12</text>
<text x="309.02" y="441.2" font-size="12" text-anchor="middle">14</text>
<text x="344.43" y="441.2" font-size="12" text-anchor="middle">16</text>
<text x="379.85" y="441.2" font-size="12" text-anchor="middle">18</text>
<text x="415.27" y="441.2" font-size="12" text-anchor="middle">20</text>
<text x="450.68" y="441.2" font-size="12" text-anchor="middle">22</text>
<text x="486.1" y="441.2" font-size="12" text-anchor="middle">24</text>
<text transform="translate(30.3 357.8) rotate(-90)" font-size="14" text-anchor="middle">Percent</text>
<text x="780.8" y="276.8" font-size="15.85" text-anchor="middle">Wind Direction</text>
<text x="561.6" y="430.9" font-size="12" text-anchor="end">0</text>
<text x="999.7" y="430.9" font-size="12">N</text>
<text x="561.6" y="413.72" font-size="12" text-anchor="end">45</text>
<text x="999.7" y="413.72" font-size="12">NE</text>
<text x="561.6" y="396.55" font-size="12" text-anchor="end">90</text>
<text x="999.7" y="396.55" font-size="12">E</text>
<text x="561.6" y="379.38" font-size="12" text-anchor="end">135</text>
<text x="999.7" y="379.38" font-size="12">SE</text>
<text x="561.6" y="362.2" font-size="12" text-anchor="end">180</text>
<text x="999.7" y="362.2" font-size="12">S</text>
<text x="561.6" y="345.02" font-size="12" text-anchor="end">225</text>
<text x="999.7" y="345.02" font-size="12">SW</text>
<text x="561.6" y="327.85" font-size="12" text-anchor="end">270</text>
<text x="999.7" y="327.85" font-size="12">W</text>
<text x="561.6" y="310.68" font-size="12" text-anchor="end">315</text>
<text x="999.7" y="310.68" font-size="12">NW</text>
<text x="561.6" y="293.5" font-size="12" text-anchor="end">360</text>
<text x="999.7" y="293.5" font-size="12">N</text>
<text x="567.7" y="441.2" font-size="12" text-anchor="middle">0</text>
<text x="603.15" y="441.2" font-size="12" text-anchor="middle">2</text>
<text x="638.6" y="441.2" font-size="12" text-anchor="middle">4</text>
<text x="674.05" y="441.2" font-size="12" text-anchor="middle">6</text>
<text x="709.5" y="441.2" font-size="12" text-anchor="middle">8</text>
<text x="744.95" y="441.2" font-size="12" text-anchor="middle">10</text>
<text x="780.4" y="441.2" font-size="12" text-anchor="middle">12</text>
<text x="815.85" y="441.2" font-size="12" text-anchor="middle">14</text>
<text x="851.3" y="441.2" font-size="12" text-anchor="middle">16</text>
<text x="886.75" y="441.2" font-size="12" text-anchor="middle">18</text>
<text x="922.2" y="441.2" font-size="12" text-anchor="middle">20</text>
<text x="957.65" y="441.2" font-size="12" text-anchor="middle">22</text>
<text x="993.1" y="441.2" font-size="12" text-anchor="middle">24</text>
<text transform="translate(533.1 357.8) rotate(-90)" font-size="14" text-anchor="middle">degrees</text>
<text x="274" y="478.8" font-size="15.85" text-anchor="middle">Solar Irradiance</text>
<text x="55" y="632.9" font-size="12" text-anchor="end">0</text>
<text x="55" y="617.63" font-size="12" text-anchor="end">100</text>
<text x="55" y="602.37" font-size="12" text-anchor="end">200</text>
<text x="55" y="587.1" font-size="12" text-anchor="end">300</text>
<text x="55" y="571.83" font-size="12" text-anchor="end">400</text>
<text x="55" y="556.57" font-size="12" text-anchor="end">500</text>
<text x="55" y="541.3" font-size="12" text-anchor="end">600</text>
<text x="55" y="526.03" font-size="12" text-anchor="end">700</text>
<text x="55" y="510.77" font-size="12" text-anchor="end">800</text>
<text x="55" y="495.5" font-size="12" text-anchor="end">900</text>
<text x="61.1" y="643.2" font-size="12" text-anchor="middle">0</text>
<text x="96.52" y="643.2" font-size="12" text-anchor="middle">2</text>
<text x="131.93" y="643.2" font-size="12" text-anchor="middle">4</text>
<text x="167.35" y="643.2" font-size="12" text-anchor="middle">6</text>
<text x="202.77" y="643.2" font-size="12" text-anchor="middle">8</text>
<text x="238.18" y="643.2" font-size="12" text-anchor="middle">10</text>
<text x="273.6" y="643.2" font-size="12" text-anchor="middle">12</text>
<text x="309.02" y="643.2" font-size="12" text-anchor="middle">14</text>
<text x="344.43" y="643.2" font-size="12" text-anchor="middle">16</text>
<text x="379.85" y="643.2" font-size="12" text-anchor="middle">18</text>
<text x="415.27" y="643.2" font-size="12" text-anchor="middle">20</text>
<text x="450.68" y="643.2" font-size="12" text-anchor="middle">22</text>
<text x="486.1" y="643.2" font-size="12" text-anchor="middle">24</text>
<text transform="translate(29.1 559.8) rotate(-90)" font-size="14" text-anchor="middle">W/m<tspan dy="-7.6" font-size="9.5">2</tspan></text>
<text x="780.8" y="478.8" font-size="15.85" text-anchor="middle">Air Pressure</text>
<text x="561.6" y="632.9" font-size="12" text-anchor="end">734</text>
<text x="561.6" y="610" font-size="12" text-anchor="end">736</text>
<text x="561.6" y="587.1" font-size="12" text-anchor="end">738</text>
<text x="561.6" y="564.2" font-size="12" text-anchor="end">740</text>
<text x="561.6" y="541.3" font-size="12" text-anchor="end">742</text>
<text x="561.6" y="518.4" font-size="12" text-anchor="end">744</text>
<text x="561.6" y="495.5" font-size="12" text-anchor="end">746</text>
<text x="567.7" y="643.2" font-size="12" text-anchor="middle">0</text>
<text x="603.15" y="643.2" font-size="12" text-anchor="middle">2</text>
<text x="638.6" y="643.2" font-size="12" text-anchor="middle">4</text>
<text x="674.05" y="643.2" font-size="12" text-anchor="middle">6</text>
<text x="709.5" y="643.2" font-size="12" text-anchor="middle">8</text>
<text x="744.95" y="643.2" font-size="12" text-anchor="middle">10</text>
<text x="780.4" y="643.2" font-size="12" text-anchor="middle">12</text>
<text x="815.85" y="643.2" font-size="12" text-anchor="middle">14</text>
<text x="851.3" y="643.2" font-size="12" text-anchor="middle">16</text>
<text x="886.75" y="643.2" font-size="12" text-anchor="middle">18</text>
<text x="922.2" y="643.2" font-size="12" text-anchor="middle">20</text>
<text x="957.65" y="643.2" font-size="12" text-anchor="middle">22</text>
<text x="993.1" y="643.2" font-size="12" text-anchor="middle">24</text>
<text transform="translate(536.4 559.8) rotate(-90)" font-size="14" text-anchor="middle">millibars</text>
<text x="274" y="680.8" font-size="15.85" text-anchor="middle">UV Index</text>
<text x="55" y="834.9" font-size="12" text-anchor="end">0</text>
<text x="55" y="813.76" font-size="12" text-anchor="end">2</text>
<text x="55" y="792.62" font-size="12" text-anchor="end">4</text>
<text x="55" y="771.48" font-size="12" text-anchor="end">6</text>
<text x="55" y="750.35" font-size="12" text-anchor="end">8</text>
<text x="55" y="729.21" font-size="12" text-anchor="end">10</text>
<text x="55" y="708.07" font-size="12" text-anchor="end">12</text>
<text x="61.1" y="845.2" font-size="12" text-anchor="middle">0</text>
<text x="96.52" y="845.2" font-size="12" text-anchor="middle">2</text>
<text x="131.93" y="845.2" font-size="12" text-anchor="middle">4</text>
<text x="167.35" y="845.2" font-size="12" text-anchor="middle">6</text>
<text x="202.77" y="845.2" font-size="12" text-anchor="middle">8</text>
<text x="238.18" y="845.2" font-size="12" text-anchor="middle">10</text>
<text x="273.6" y="845.2" font-size="12" text-anchor="middle">12</text>
<text x="309.02" y="845.2" font-size="12" text-anchor="middle">14</text>
<text x="344.43" y="845.2" font-size="12" text-anchor="middle">16</text>
<text x="379.85" y="845.2" font-size="12" text-anchor="middle">18</text>
<text x="415.27" y="845.2" font-size="12" text-anchor="middle">20</text>
<text x="450.68" y="845.2" font-size="12" text-anchor="middle">22</text>
<text x="486.1" y="845.2" font-size="12" text-anchor="middle">24</text>
<text transform="translate(36.6 761.8) rotate(-90)" font-size="14" text-anchor="middle">UV Index</text>
<text x="274" y="863.8" font-size="16" text-anchor="middle">Local Time (hour)</text>
<text x="780.8" y="680.8" font-size="15.85" text-anchor="middle">24 hour Accumulated Rainfall or Snow Melt</text>
<text x="561.6" y="834.9" font-size="12" text-anchor="end">0.0</text>
<text x="999.7" y="834.9" font-size="12">0.0</text>
<text x="561.6" y="821.16" font-size="12" text-anchor="end">0.01</text>
<text x="999.7" y="821.16" font-size="12">0.01</text>
<text x="561.6" y="807.42" font-size="12" text-anchor="end">0.02</text>
<text x="999.7" y="807.42" font-size="12">0.02</text>
<text x="561.6" y="793.68" font-size="12" text-anchor="end">0.03</text>
<text x="999.7" y="793.68" font-size="12">0.03</text>
<text x="561.6" y="779.94" font-size="12" text-anchor="end">0.04</text>
<text x="999.7" y="779.94" font-size="12">0.04</text>
<text x="561.6" y="766.2" font-size="12" text-anchor="end">0.05</text>
<text x="999.7" y="766.2" font-size="12">0.05</text>
<text x="561.6" y="752.46" font-size="12" text-anchor="end">0.06</text>
<text x="999.7" y="752.46" font-size="12">0.06</text>
<text x="561.6" y="738.72" font-size="12" text-anchor="end">0.07</text>
<text x="999.7" y="738.72" font-size="12">0.07</text>
<text x="561.6" y="724.98" font-size="12" text-anchor="end">0.08</text>
<text x="999.7" y="724.98" font-size="12">0.08</text>
<text x="561.6" y="711.24" font-size="12" text-anchor="end">0.09</text>
<text x="999.7" y="711.24" font-size="12">0.09</text>
<text x="561.6" y="697.5" font-size="12" text-anchor="end">0.1</text>
<text x="999.7" y="697.5" font-size="12">0.1</text>
<text x="567.7" y="845.2" font-size="12" text-anchor="middle">0</text>
<text x="603.15" y="845.2" font-size="12" text-anchor="middle">2</text>
<text x="638.6" y="845.2" font-size="12" text-anchor="middle">4</text>
<text x="674.05" y="845.2" font-size="12" text-anchor="middle">6</text>
<text x="709.5" y="845.2" font-size="12" text-anchor="middle">8</text>
<text x="744.95" y="845.2" font-size="12" text-anchor="middle">10</text>
<text x="780.4" y="845.2" font-size="12" text-anchor="middle">12</text>
<text x="815.85" y="845.2" font-size="12" text-anchor="middle">14</text>
<text x="851.3" y="845.2" font-size="12" text-anchor="middle">16</text>
<text x="886.75" y="845.2" font-size="12" text-anchor="middle">18</text>
<text x="922.2" y="845.2" font-size="12" text-anchor="middle">20</text>
<text x="957.65" y="845.2" font-size="12" text-anchor="middle">22</text>
<text x="993.1" y="845.2" font-size="12" text-anchor="middle">24</text>
<text transform="translate(533.5 761.8) rotate(-90)" font-size="14" text-anchor="middle">Inches</text>
<text x="780.8" y="863.8" font-size="16" text-anchor="middle">Local Time (hour)</text>
</g>
</svg>
</body></html>
